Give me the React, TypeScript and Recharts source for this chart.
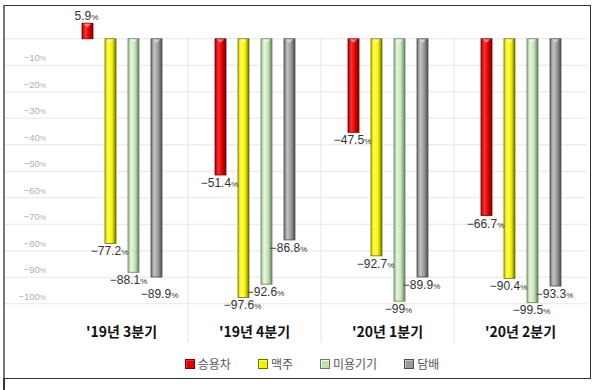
import { BarChart, Bar, XAxis, YAxis, CartesianGrid, Legend, LabelList } from 'recharts'

const quarters = ["'19년 3분기", "'19년 4분기", "'20년 1분기", "'20년 2분기"]
const seriesNames = ['승용차', '맥주', '미용기기', '담배']
// printed values (labels)
const carLabel = [5.9, -51.4, -47.5, -66.7]
const beerLabel = [-77.2, -97.6, -92.7, -90.4]
const beautyLabel = [-88.1, -92.6, -99, -99.5]
const tobaccoLabel = [-89.9, -86.8, -89.9, -93.3]
// bar lengths as drawn in the reference (a few differ from the printed values)
const carBar = [5.9, -51.4, -35.3, -66.7]
const beerBar = [-77.2, -97.6, -81.9, -90.4]
const beautyBar = [-88.1, -92.6, -99, -99.5]
const tobaccoBar = [-89.9, -75.9, -89.9, -93.3]
const yTicks = [0, -10, -20, -30, -40, -50, -60, -70, -80, -90, -100]

const keys = ['car', 'beer', 'beauty', 'tobacco']
const barArrays = [carBar, beerBar, beautyBar, tobaccoBar]
const labelArrays = [carLabel, beerLabel, beautyLabel, tobaccoLabel]

const data = quarters.map((q, i) => {
  const row: Record<string, any> = { q }
  keys.forEach((k, j) => {
    row[k] = barArrays[j][i]
    row[k + 'Label'] = labelArrays[j][i]
  })
  return row
})

const W = 600
const H = 390
const TOP = 7
const LEFT = 55
const RIGHT = 587
const BOTTOM = 325
const Y_MAX = 12
const Y_MIN = -108
const zeroY = TOP + (Y_MAX / (Y_MAX - Y_MIN)) * (BOTTOM - TOP)

const KFONT = "'Noto Sans CJK KR', 'Noto Sans', sans-serif"
const NFONT = "'Liberation Sans', Arial, sans-serif"

const colors: Record<string, string[]> = {
  car: ['#a00000', '#ff3030', '#e00000', '#7a0000'],
  beer: ['#cfcf00', '#ffff50', '#f2f200', '#6f6f00'],
  beauty: ['#9fbf92', '#e6f7dc', '#c2e2b2', '#667f5e'],
  tobacco: ['#6f6f6f', '#c4c4c4', '#9a9a9a', '#4e4e4e'],
}

// nudge labels apart when neighbouring bars end at nearly the same depth
const nudge: Record<string, { dx: number; dy: number }[]> = {}
keys.forEach((k) => (nudge[k] = quarters.map(() => ({ dx: 0, dy: 0 }))))
quarters.forEach((_, i) => {
  for (let j = 1; j < keys.length; j++) {
    const a = barArrays[j - 1][i]
    const b = barArrays[j][i]
    if (a < 0 && b < 0 && Math.abs(a - b) < 4) {
      nudge[keys[j - 1]][i].dx -= 4
      nudge[keys[j]][i].dx += 4
      nudge[keys[j]][i].dy += 9
    }
  }
})

const fmt = (v: number) => (v < 0 ? '−' + Math.abs(v) : String(v))

const makeShape = (key: string) => (props: any) => {
  const { x, y, width, height } = props
  const top = Math.min(y, y + height)
  const h = Math.abs(height)
  const c = colors[key]
  return (
    <g>
      <rect x={x} y={top} width={width} height={h} fill={`url(#g-${key})`} stroke={c[3]} strokeWidth={0.8} />
      <polygon
        points={`${x + 1.5},${top + 0.5} ${x + width - 1.5},${top + 0.5} ${x + width / 2},${top + 4}`}
        fill="#ffffff"
        opacity={0.45}
      />
    </g>
  )
}

const makeLabel = (key: string) => (props: any) => {
  const { x, y, width, height, value, index } = props
  const v = Number(value)
  const bar = barArrays[keys.indexOf(key)][index]
  const n = nudge[key][index]
  const cx = x + width / 2 - 1 + n.dx
  const ty = bar < 0 ? Math.max(y, y + height) + 12 + n.dy : Math.min(y, y + height) - 3
  return (
    <text x={cx} y={ty} textAnchor="middle" fontFamily={NFONT} fontSize={12} fill="#333">
      {fmt(v)}
      <tspan fontSize={8}>%</tspan>
    </text>
  )
}

const YTick = (props: any) => {
  const { y, payload } = props
  const v = payload.value
  return (
    <g>
      <line x1={5} x2={LEFT} y1={y} y2={y} stroke="#e6e6e6" />
      {v !== 0 ? (
        <text x={46} y={y - 4} textAnchor="end" fontFamily={NFONT} fontSize={9.5} fill="#b0b0b0">
          {fmt(v)}
          <tspan fontSize={7}>%</tspan>
        </text>
      ) : null}
    </g>
  )
}

const XTick = (props: any) => {
  const { x, payload, index } = props
  const bw = (RIGHT - LEFT) / quarters.length
  return (
    <g>
      {index < quarters.length - 1 ? (
        <line x1={x + bw / 2} x2={x + bw / 2} y1={zeroY} y2={BOTTOM + 18} stroke="#e6e6e6" />
      ) : null}
      <text x={x} y={BOTTOM + 12} textAnchor="middle" fontFamily={KFONT} fontSize={14} fontWeight={700} fill="#111">
        {payload.value}
      </text>
    </g>
  )
}

const LegendContent = () => (
  <div style={{ display: 'flex', justifyContent: 'center', paddingLeft: 32, paddingTop: 8, fontFamily: KFONT, fontSize: 12, color: '#555' }}>
    {keys.map((k, i) => (
      <div key={k} style={{ display: 'flex', alignItems: 'center', marginRight: i < 3 ? 27 : 0 }}>
        <span
          style={{
            display: 'inline-block',
            width: 8,
            height: 8,
            marginRight: 3,
            background: colors[k][2],
            border: `1px solid ${colors[k][3]}`,
            boxShadow: `inset 1px 1px 0 ${colors[k][1]}`,
          }}
        />
        <span>{seriesNames[i]}</span>
      </div>
    ))}
  </div>
)

export default function App() {
  return (
    <div style={{ position: 'absolute', left: 0, top: 0, width: W, height: H, background: '#fff' }}>
      <div style={{ position: 'absolute', left: 3, top: 5, width: 585, height: 372, border: '1px solid #333', borderLeft: '2px solid #777' }} />
      <div style={{ position: 'absolute', left: 3, top: 378, width: 2, height: 12, background: '#333' }} />
      <div style={{ position: 'absolute', left: 0, top: 0 }}>
        <BarChart
          width={W}
          height={H}
          data={data}
          margin={{ top: TOP, right: W - RIGHT, left: 5, bottom: 17 }}
          barSize={11}
          barGap={12}
        >
          <defs>
            {keys.map((k) => (
              <linearGradient key={k} id={`g-${k}`} x1="0" y1="0" x2="1" y2="0">
                <stop offset="0" stopColor={colors[k][0]} />
                <stop offset="0.3" stopColor={colors[k][1]} />
                <stop offset="0.65" stopColor={colors[k][2]} />
                <stop offset="1" stopColor={colors[k][3]} />
              </linearGradient>
            ))}
          </defs>
          <CartesianGrid vertical={false} stroke="#e6e6e6" horizontalValues={yTicks} />
          <XAxis dataKey="q" axisLine={false} tickLine={false} height={22} tick={<XTick />} interval={0} />
          <YAxis
            domain={[Y_MIN, Y_MAX]}
            ticks={yTicks}
            width={50}
            axisLine={false}
            tickLine={false}
            tick={<YTick />}
            allowDataOverflow
          />
          <Legend verticalAlign="bottom" height={26} content={<LegendContent />} />
          {keys.map((k, i) => (
            <Bar key={k} dataKey={k} name={seriesNames[i]} fill={colors[k][2]} isAnimationActive={false} shape={makeShape(k)}>
              <LabelList dataKey={k + 'Label'} content={makeLabel(k)} />
            </Bar>
          ))}
        </BarChart>
      </div>
    </div>
  )
}
